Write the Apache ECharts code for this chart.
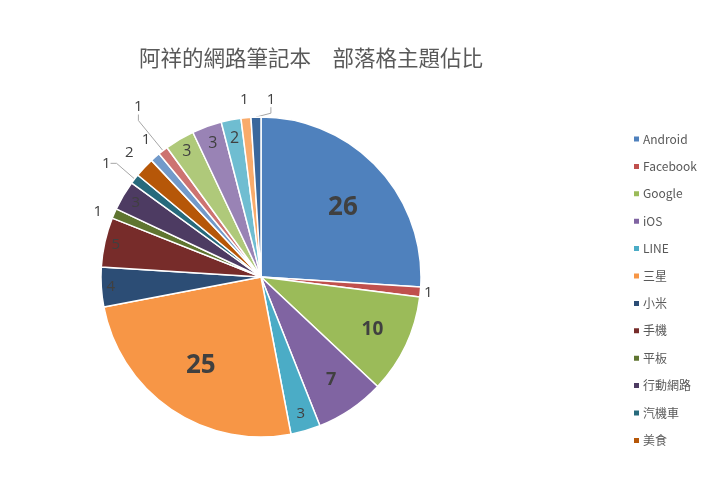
<!DOCTYPE html>
<html>
<head>
<meta charset="utf-8">
<script src="https://cdn.jsdelivr.net/npm/echarts@6/dist/echarts.min.js"></script>
<style>
  html, body { margin: 0; padding: 0; background: #fff; }
  #chart { width: 720px; height: 477px; }
</style>
</head>
<body>
<div id="chart"></div>
<script>
// 部落格主題 (legend only lists the first 12)
const categories = ["Android", "Facebook", "Google", "iOS", "LINE", "三星", "小米", "手機", "平板", "行動網路", "汽機車", "美食",
    "軟體", "電腦", "遊戲", "網站", "旅遊", "攝影", "其他"];
const values = [26, 1, 10, 7, 3, 25, 4, 5, 1, 3, 1, 2, 1, 1, 3, 3, 2, 1, 1];
const legendNames = categories.slice(0, 12);

// Office palette (base, darker, lighter, dark again)
const colors = ["#4F81BD", "#C0504D", "#9BBB59", "#8064A2", "#4BACC6", "#F79646",
    "#2C4D75", "#772C2A", "#5F7530", "#4D3B62", "#276A7C", "#B65708",
    "#729ACA", "#CD7371", "#AFC97A", "#9983B5", "#6FBDD1", "#F9AB6B", "#3A679C"];

// label placement: distance as fraction of radius, extra angle (deg), font size, bold, leader line
const labelDist = [0.67, 1.05, 0.77, 0.78, 0.89, 0.67, 0.94, 0.93, 1.1, 0.91, 1.2, 1.13, 1.12, 1.31, 0.91, 0.89, 0.88, 1.11, 1.11];
const labelTurn = [3, 0, 0, 0, 0, 0, 0, 0, -1.5, 0, -1.5, 0, 1.5, 2, 0, 0, 0, 0, 5];
const labelSize = [26, 15, 19, 18, 15, 26, 15, 15, 15, 15, 15, 15, 15, 15, 16, 16, 16, 15, 15];
const labelBold = [true, false, true, true, false, true, false, false, false, false, false, false, false, false, false, false, false, false, false];
const withLine = [false, false, false, false, false, false, false, false, false, false, true, false, false, true, false, false, false, false, true];

const cx = 261, cy = 277, radius = 160;
const total = values.reduce((a, b) => a + b, 0);
const midAngle = [];
let acc = 0;
values.forEach((v) => {
    midAngle.push((acc + v / 2) / total * 360);
    acc += v;
});

const chart = echarts.init(document.getElementById("chart"));

const seriesData = categories.map((name, i) => ({
    name: name,
    value: values[i],
    itemStyle: { color: colors[i] },
    label: {
        position: labelDist[i] > 1 ? "outside" : "inside",
        fontSize: labelSize[i],
        fontWeight: labelBold[i] ? "bold" : "normal",
    },
    labelLine: { show: withLine[i], length: 10, length2: 6 },
}));

const option = {
    animation: false,
    title: {
        text: "阿祥的網路筆記本　部落格主題佔比",
        left: 134,
        top: 42,
        textStyle: {
            fontFamily: "Noto Sans CJK TC",
            fontSize: 21.5,
            fontWeight: "normal",
            color: "#595959",
        },
    },
    legend: {
        data: legendNames,
        orient: "vertical",
        left: 627,
        top: 128,
        itemWidth: 7,
        itemHeight: 7,
        itemGap: 15.4,
        icon: "rect",
        textStyle: {
            fontFamily: "Noto Sans CJK TC",
            fontSize: 12,
            color: "#595959",
            padding: [0, 0, 0, -2],
        },
    },
    series: [
        {
            type: "pie",
            center: [cx, cy],
            radius: radius,
            startAngle: 90,
            clockwise: true,
            avoidLabelOverlap: false,
            itemStyle: { borderColor: "#fff", borderWidth: 1.5 },
            label: {
                show: true,
                formatter: "{c}",
                color: "#404040",
                fontFamily: "Open Sans",
            },
            labelLine: {
                lineStyle: { color: "#A6A6A6", width: 1 },
            },
            labelLayout: (params) => {
                const i = params.dataIndex;
                const a = (midAngle[i] + labelTurn[i]) * Math.PI / 180;
                const d = labelDist[i] * radius;
                return {
                    x: cx + Math.sin(a) * d,
                    y: cy - Math.cos(a) * d,
                    align: "center",
                    verticalAlign: "middle",
                };
            },
            data: seriesData,
        },
    ],
};

chart.setOption(option);
window.addEventListener("resize", () => chart.resize());
</script>
</body>
</html>
